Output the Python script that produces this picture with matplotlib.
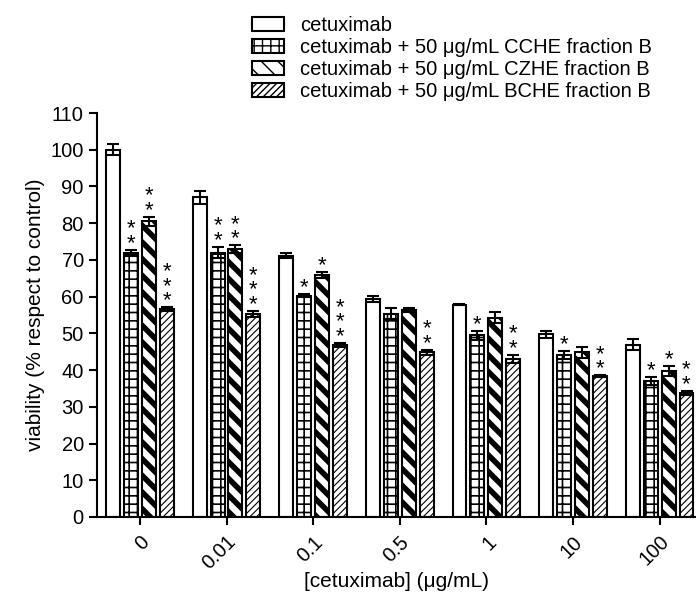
import matplotlib
matplotlib.use('Agg')
import matplotlib.pyplot as plt
import numpy as np

plt.rcParams['font.family'] = ['Liberation Sans', 'DejaVu Sans']

# Data
doses = ['0', '0.01', '0.1', '0.5', '1', '10', '100']
labels = ['cetuximab',
          'cetuximab + 50 μg/mL CCHE fraction B',
          'cetuximab + 50 μg/mL CZHE fraction B',
          'cetuximab + 50 μg/mL BCHE fraction B']

cetux = [100.0, 87.0, 71.2, 59.3, 57.8, 49.7, 46.9]
cetux_err = [1.5, 1.8, 0.6, 0.8, 0.2, 1.0, 1.5]
cche = [72.0, 72.0, 60.3, 55.3, 49.5, 44.1, 37.0]
cche_err = [0.8, 1.5, 0.5, 1.5, 1.2, 1.0, 1.0]
czhe = [80.5, 73.0, 65.8, 56.3, 54.2, 44.9, 39.8]
czhe_err = [1.3, 1.0, 0.8, 0.5, 1.5, 1.5, 1.3]
bche = [56.6, 55.3, 46.8, 44.8, 43.0, 38.3, 33.8]
bche_err = [0.5, 0.8, 0.6, 0.8, 1.2, 0.3, 0.5]

# number of significance stars above each bar
stars_cche = [2, 2, 1, 0, 1, 1, 1]
stars_czhe = [2, 2, 1, 0, 0, 0, 1]
stars_bche = [3, 3, 3, 2, 2, 2, 2]

series = [(cetux, cetux_err, None, ''),
          (cche, cche_err, stars_cche, '++'),
          (czhe, czhe_err, stars_czhe, '\\\\'),
          (bche, bche_err, stars_bche, '/////')]
hatch_lw = [1.0, 1.2, 4.0, 0.8]

fig = plt.figure(figsize=(6.96, 6.0), dpi=100)
ax = fig.add_axes([97 / 696, 83 / 600, 1 - 97 / 696, (517 - 113) / 600])

x = np.arange(len(doses))
pitch = 0.207
width = 0.161

for i, (vals, errs, stars, hatch) in enumerate(series):
    pos = x + (i - 1.5) * pitch
    bars = ax.bar(pos, vals, width, color='white', edgecolor='black',
                  linewidth=1.5, hatch=hatch, label=labels[i], zorder=2)
    for b in bars:
        if hasattr(b, 'set_hatch_linewidth'):
            b.set_hatch_linewidth(hatch_lw[i])
    ax.errorbar(pos, vals, yerr=errs, fmt='none', ecolor='black',
                elinewidth=1.5, capsize=4, capthick=1.5, zorder=3)
    if stars:
        for p, v, e, n in zip(pos, vals, errs, stars):
            if n:
                ax.annotate('\n'.join(['*'] * n), xy=(p, v + e),
                            xytext=(0, -3), textcoords='offset points',
                            ha='center', va='bottom', fontsize=16,
                            linespacing=0.6)

ax.set_xlim(-0.495, 6.42)
ax.set_ylim(0, 110)
ax.set_yticks(np.arange(0, 111, 10))
ax.set_xticks(x)
ax.set_xticklabels(doses, rotation=45, ha='right', rotation_mode='anchor')
ax.tick_params(axis='both', direction='out', length=6, width=1.5,
               labelsize=14.5)
ax.tick_params(axis='x', pad=5)
for s in ['top', 'right']:
    ax.spines[s].set_visible(False)
for s in ['left', 'bottom']:
    ax.spines[s].set_linewidth(1.5)

ax.set_ylabel('viability (% respect to control)', fontsize=15)
ax.set_xlabel('[cetuximab] (μg/mL)', fontsize=15)
ax.xaxis.set_label_coords(0.5, -55 / 404)

fig.legend(loc='upper left', bbox_to_anchor=(252 / 696, 1 - 16 / 600),
           frameon=False, fontsize=14.5, handlelength=1.6, handleheight=0.7,
           labelspacing=0.15, borderpad=0, borderaxespad=0, handletextpad=0.8)

fig.savefig('out.png', dpi=100)
